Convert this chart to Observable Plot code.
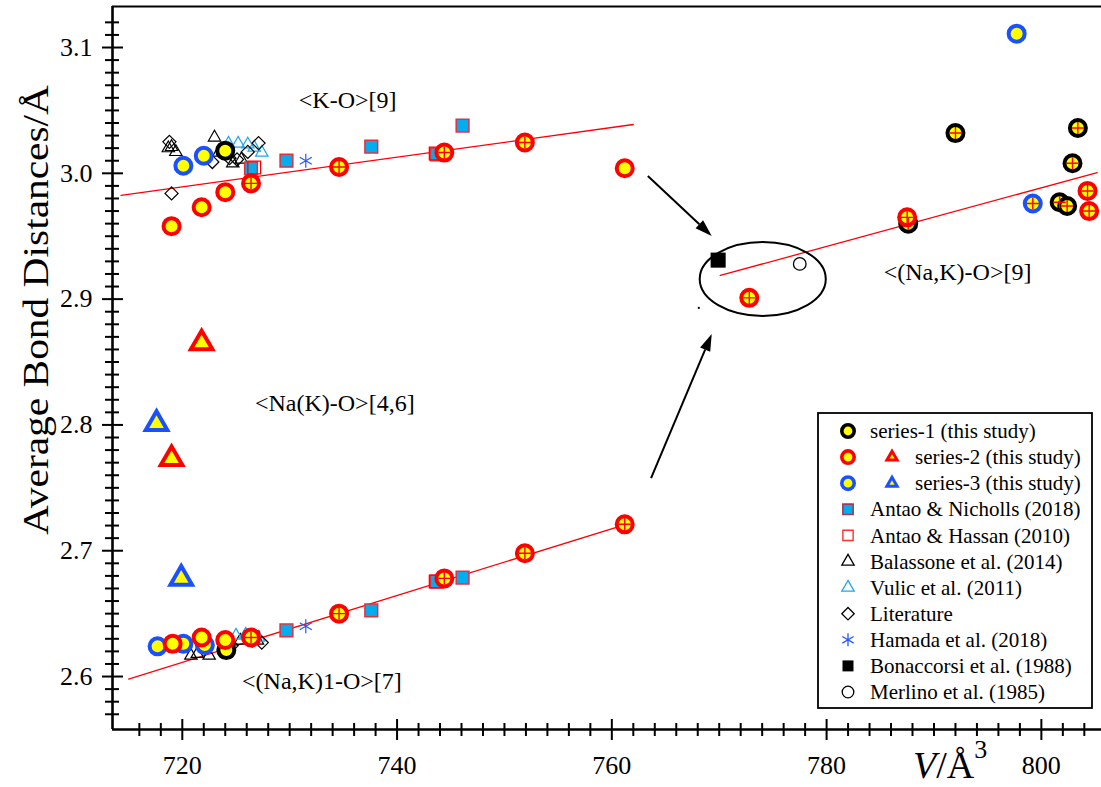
<!DOCTYPE html>
<html><head><meta charset="utf-8">
<script src="https://cdn.jsdelivr.net/npm/d3@7"></script>
<script src="https://cdn.jsdelivr.net/npm/@observablehq/plot@0.6"></script>
<style>body{margin:0;background:#fff;overflow:hidden}svg{display:block}</style>
</head><body><div id="chart"></div>
<script>
// ---------- data ----------
const xTicks = [720, 740, 760, 780, 800];
const yTicks = [2.6, 2.7, 2.8, 2.9, 3.0, 3.1];

const series1 = [
  {v: 724.0, d: 3.018, cross: false},
  {v: 724.1, d: 2.621, cross: false},
  {v: 787.6, d: 2.960, cross: true},
  {v: 792.0, d: 3.032, cross: true},
  {v: 803.4, d: 3.036, cross: true},
  {v: 802.9, d: 3.008, cross: true},
  {v: 801.7, d: 2.977, cross: true},
  {v: 802.4, d: 2.974, cross: true}
];
const series2 = [
  {v: 719.0, d: 2.958, cross: false},
  {v: 721.8, d: 2.973, cross: false},
  {v: 724.0, d: 2.985, cross: false},
  {v: 726.4, d: 2.992, cross: true},
  {v: 734.6, d: 3.005, cross: true},
  {v: 744.4, d: 3.0165, cross: true},
  {v: 751.9, d: 3.0245, cross: true},
  {v: 761.2, d: 3.004, cross: false},
  {v: 719.1, d: 2.626, cross: false},
  {v: 721.8, d: 2.631, cross: false},
  {v: 724.0, d: 2.629, cross: false},
  {v: 726.4, d: 2.631, cross: true},
  {v: 734.6, d: 2.650, cross: true},
  {v: 744.4, d: 2.678, cross: true},
  {v: 751.9, d: 2.698, cross: true},
  {v: 761.2, d: 2.721, cross: true},
  {v: 772.8, d: 2.901, cross: true},
  {v: 787.5, d: 2.965, cross: true},
  {v: 804.3, d: 2.986, cross: true},
  {v: 804.45, d: 2.970, cross: true}
];
const series3 = [
  {v: 720.1, d: 3.006, cross: false},
  {v: 722.0, d: 3.014, cross: false},
  {v: 717.7, d: 2.624, cross: false},
  {v: 720.1, d: 2.626, cross: false},
  {v: 722.1, d: 2.625, cross: false},
  {v: 797.7, d: 3.111, cross: false},
  {v: 799.2, d: 2.976, cross: true}
];
const series2Tri = [{v: 721.8, d: 2.865}, {v: 719.0, d: 2.773}];
const series3Tri = [{v: 717.6, d: 2.801}, {v: 719.9, d: 2.678}];

const antaoNicholls = [
  {v: 726.4, d: 3.004}, {v: 729.7, d: 3.010}, {v: 737.6, d: 3.0213}, {v: 743.7, d: 3.015}, {v: 746.1, d: 3.038},
  {v: 726.4, d: 2.631}, {v: 729.7, d: 2.6366}, {v: 737.6, d: 2.6525}, {v: 743.7, d: 2.6755}, {v: 746.1, d: 2.6787}
];
const antaoHassan = [
  {v: 726.7, d: 3.0046}, {v: 743.6, d: 3.0157},
  {v: 726.6, d: 2.631}, {v: 743.6, d: 2.6755}
];
const balassone = [
  {v: 718.7, d: 3.020}, {v: 719.0, d: 3.021}, {v: 719.4, d: 3.017}, {v: 723.0, d: 3.0285},
  {v: 724.7, d: 3.008}, {v: 725.5, d: 3.011}, {v: 723.4, d: 3.0165},
  {v: 720.8, d: 2.6167}, {v: 721.4, d: 2.618}, {v: 722.5, d: 2.6167}, {v: 725.4, d: 2.6286}, {v: 727.0, d: 2.6286}
];
const vulic = [
  {v: 724.3, d: 3.0237}, {v: 725.2, d: 3.0237}, {v: 726.1, d: 3.023}, {v: 726.7, d: 3.0205}, {v: 727.4, d: 3.0165},
  {v: 725.0, d: 2.6326}, {v: 725.9, d: 2.6334}, {v: 727.1, d: 2.631}
];
const literature = [
  {v: 718.8, d: 3.025}, {v: 719.0, d: 2.984}, {v: 722.8, d: 3.009}, {v: 724.4, d: 3.012},
  {v: 725.1, d: 3.011}, {v: 726.1, d: 3.017}, {v: 727.1, d: 3.024},
  {v: 726.5, d: 2.6286}, {v: 727.4, d: 2.627}, {v: 724.6, d: 2.6246}
];
const hamada = [{v: 731.5, d: 3.010}, {v: 731.5, d: 2.640}];
const bonaccorsi = [{v: 769.9, d: 2.931}];
const merlino = [{v: 777.5, d: 2.928}];
const strayDot = [{v: 768.1, d: 2.893}];

// fit lines (endpoints)
const lineKO = [{v: 714.3, d: 2.9825}, {v: 762.0, d: 3.0388}];
const lineNaK1 = [{v: 715.0, d: 2.598}, {v: 762.0, d: 2.7228}];
const lineNaK9 = [{v: 770.1, d: 2.9188}, {v: 805.2, d: 3.0006}];

const regionLabels = [
  {v: 735.4, d: 3.058, text: "<K-O>[9]"},
  {v: 734.2, d: 2.817, text: "<Na(K)-O>[4,6]"},
  {v: 733.0, d: 2.596, text: "<(Na,K)1-O>[7]"},
  {v: 792.2, d: 2.921, text: "<(Na,K)-O>[9]"}
];
const arrows = [
  {v1: 763.4, d1: 2.9975, v2: 769.35, d2: 2.9498},
  {v1: 763.7, d1: 2.7574, v2: 769.35, d2: 2.8719}
];
const ellipse = {v: 774.1, d: 2.9156, rv: 5.87, rd: 0.0294};

const legendItems = [
  {label: "series-1 (this study)", kind: "ring", stroke: "#000"},
  {label: "series-2 (this study)", kind: "ringTri", stroke: "#ff0000"},
  {label: "series-3 (this study)", kind: "ringTri", stroke: "#1a50ff"},
  {label: "Antao & Nicholls (2018)", kind: "squareCyan"},
  {label: "Antao & Hassan (2010)", kind: "squareRed"},
  {label: "Balassone et al. (2014)", kind: "triBlack"},
  {label: "Vulic et al. (2011)", kind: "triCyan"},
  {label: "Literature", kind: "diamond"},
  {label: "Hamada et al. (2018)", kind: "asterisk"},
  {label: "Bonaccorsi et al. (1988)", kind: "squareBlack"},
  {label: "Merlino et al. (1985)", kind: "circleOpen"}
];

// ---------- chart ----------
const W = 1101, H = 787;
const xDomain = [713.5, 805.6], yDomain = [2.5579, 3.1326];
const FONT = "'Liberation Serif', 'Times New Roman', serif";
const YEL = "#ffff00", RED = "#ff0000", BLUE = "#1a50ff", CYAN = "#00aeef";
const xMinor = d3.range(358, 403).map(k => k * 2).filter(v => v % 20 !== 0);
const yMinor = d3.range(257, 313).filter(k => k % 10 !== 0).map(k => k / 100);
const innerH = H - 6 - 58, innerW = W - 112;
const crossPts = [...series1, ...series2, ...series3].filter(p => p.cross);

const plot = Plot.plot({
  width: W, height: H,
  marginLeft: 112, marginRight: 0, marginTop: 6, marginBottom: 58,
  x: {domain: xDomain}, y: {domain: yDomain},
  style: {fontFamily: FONT, background: "white", color: "black"},
  marks: [
    Plot.ruleY([yDomain[1]], {stroke: "black", strokeWidth: 2}),
    Plot.ruleX([xDomain[0]], {stroke: "black", strokeWidth: 2.6}),
    Plot.ruleY([yDomain[0]], {stroke: "black", strokeWidth: 2.6}),
    Plot.tickX(xTicks, {x: d => d, insetTop: innerH - 10, insetBottom: -11, stroke: "black", strokeWidth: 2}),
    Plot.tickX(xMinor, {x: d => d, insetTop: innerH - 6, insetBottom: -7, stroke: "black", strokeWidth: 2}),
    Plot.tickY(yTicks, {y: d => d, insetLeft: -10, insetRight: innerW - 11, stroke: "black", strokeWidth: 2}),
    Plot.tickY(yMinor, {y: d => d, insetLeft: -7, insetRight: innerW - 7, stroke: "black", strokeWidth: 2}),
    Plot.axisX({ticks: xTicks, tickSize: 0, tickPadding: 26, fontSize: 26, label: null, tickFormat: d3.format("d")}),
    Plot.axisY({ticks: yTicks, tickSize: 0, tickPadding: 20, fontSize: 26, label: null, tickFormat: d3.format(".1f")}),
    Plot.line(lineKO, {x: "v", y: "d", stroke: RED, strokeWidth: 1.3}),
    Plot.line(lineNaK1, {x: "v", y: "d", stroke: RED, strokeWidth: 1.3}),
    Plot.line(lineNaK9, {x: "v", y: "d", stroke: RED, strokeWidth: 1.3}),
    Plot.dot(balassone, {x: "v", y: "d", symbol: "triangle", r: 4.6, fill: "none", stroke: "black", strokeWidth: 1.2}),
    Plot.dot(vulic, {x: "v", y: "d", symbol: "triangle", r: 4.6, fill: "none", stroke: "#1ea7ea", strokeWidth: 1.2}),
    Plot.dot(literature, {x: "v", y: "d", symbol: "diamond2", r: 5.9, fill: "none", stroke: "black", strokeWidth: 1.2}),
    Plot.dot(antaoNicholls, {x: "v", y: "d", symbol: "square", r: 7.2, fill: CYAN, stroke: "#e23040", strokeWidth: 1.5}),
    Plot.dot(antaoHassan, {x: "v", y: "d", symbol: "square", r: 7.2, fill: "none", stroke: RED, strokeWidth: 1.3}),
    Plot.dot(hamada, {x: "v", y: "d", symbol: "asterisk", r: 6.6, stroke: "#2458ff", strokeWidth: 1.2}),
    Plot.dot(bonaccorsi, {x: "v", y: "d", symbol: "square", r: 8.5, fill: "black", stroke: "none"}),
    Plot.dot(merlino, {x: "v", y: "d", symbol: "circle", r: 6.3, fill: "white", stroke: "black", strokeWidth: 1.3}),
    Plot.dot(strayDot, {x: "v", y: "d", r: 1.1, fill: "black"}),
    Plot.dot(series2Tri, {x: "v", y: "d", symbol: "triangle", r: 8, fill: YEL, stroke: RED, strokeWidth: 4, strokeLinejoin: "miter"}),
    Plot.dot(series3Tri, {x: "v", y: "d", symbol: "triangle", r: 8, fill: YEL, stroke: BLUE, strokeWidth: 4, strokeLinejoin: "miter"}),
    Plot.dot(series3, {x: "v", y: "d", r: 8, fill: YEL, stroke: BLUE, strokeWidth: 4}),
    Plot.dot(series1, {x: "v", y: "d", r: 8, fill: YEL, stroke: "black", strokeWidth: 4}),
    Plot.dot(series2, {x: "v", y: "d", r: 8, fill: YEL, stroke: RED, strokeWidth: 4}),
    Plot.dot(crossPts, {x: "v", y: "d", symbol: "plus", r: 4, stroke: RED, strokeWidth: 1.4}),
    Plot.text(regionLabels, {x: "v", y: "d", text: "text", fontSize: 24, fill: "black"})
  ]
});
document.getElementById("chart").appendChild(plot);

const sx = plot.scale("x"), sy = plot.scale("y");
const svg = d3.select(plot);

svg.append("ellipse")
  .attr("cx", sx.apply(ellipse.v)).attr("cy", sy.apply(ellipse.d))
  .attr("rx", sx.apply(ellipse.v + ellipse.rv) - sx.apply(ellipse.v))
  .attr("ry", sy.apply(ellipse.d) - sy.apply(ellipse.d + ellipse.rd))
  .attr("fill", "none").attr("stroke", "black").attr("stroke-width", 2);

arrows.forEach(a => {
  const x1 = sx.apply(a.v1), y1 = sy.apply(a.d1), x2 = sx.apply(a.v2), y2 = sy.apply(a.d2);
  const ang = Math.atan2(y2 - y1, x2 - x1), L = 17, hw = 5.5;
  const bx = x2 - L * Math.cos(ang), by = y2 - L * Math.sin(ang);
  svg.append("line").attr("x1", x1).attr("y1", y1).attr("x2", bx).attr("y2", by)
    .attr("stroke", "black").attr("stroke-width", 2);
  const px = -Math.sin(ang) * hw, py = Math.cos(ang) * hw;
  svg.append("path").attr("d", `M${x2},${y2}L${bx + px},${by + py}L${bx - px},${by - py}Z`).attr("fill", "black");
});

svg.append("text").attr("transform", "translate(48,310) rotate(-90)")
  .attr("text-anchor", "middle").attr("font-family", FONT).attr("font-size", 36)
  .attr("textLength", 450).attr("lengthAdjust", "spacingAndGlyphs")
  .text("Average Bond Distances/Å");
const xt = svg.append("text").attr("x", 913).attr("y", 778).attr("text-anchor", "start")
  .attr("font-family", FONT).attr("font-size", 38);
xt.append("tspan").attr("font-style", "italic").text("V");
xt.append("tspan").text("/Å");
xt.append("tspan").attr("dy", -20).attr("font-size", 26).text("3");

const lg = svg.append("g");
lg.append("rect").attr("x", 818).attr("y", 413).attr("width", 274).attr("height", 295)
  .attr("fill", "white").attr("stroke", "black").attr("stroke-width", 1.8);
const sym = (type, r) => d3.symbol(type, Math.PI * r * r)();
legendItems.forEach((it, i) => {
  const y = 431 + i * 26.1, g = lg.append("g");
  const sx0 = 848;
  let tx = 870;
  const put = (d, x, attrs) => {
    const p = g.append("path").attr("d", d).attr("transform", `translate(${x},${y})`);
    Object.entries(attrs).forEach(([k, v]) => p.attr(k, v));
  };
  if (it.kind === "ring" || it.kind === "ringTri") {
    put(sym(d3.symbolCircle, 6.2), sx0, {fill: YEL, stroke: it.stroke, "stroke-width": 3.6});
    if (it.kind === "ringTri") {
      put(sym(d3.symbolTriangle, 3.8), 892, {fill: YEL, stroke: it.stroke, "stroke-width": 3});
      tx = 915;
    }
  } else if (it.kind === "squareCyan") put(sym(d3.symbolSquare, 5.8), sx0, {fill: CYAN, stroke: "#9e3b5b", "stroke-width": 1.6});
  else if (it.kind === "squareRed") put(sym(d3.symbolSquare, 5.8), sx0, {fill: "none", stroke: "#ff3030", "stroke-width": 1.4});
  else if (it.kind === "triBlack") put(sym(d3.symbolTriangle, 4.6), sx0, {fill: "none", stroke: "#000", "stroke-width": 1.3});
  else if (it.kind === "triCyan") put(sym(d3.symbolTriangle, 4.6), sx0, {fill: "none", stroke: "#1ea7ea", "stroke-width": 1.3});
  else if (it.kind === "diamond") put(sym(d3.symbolDiamond2, 5.6), sx0, {fill: "none", stroke: "#000", "stroke-width": 1.3});
  else if (it.kind === "asterisk") put(sym(d3.symbolAsterisk, 6.2), sx0, {fill: "none", stroke: "#2458ff", "stroke-width": 1.3});
  else if (it.kind === "squareBlack") put(sym(d3.symbolSquare, 6.2), sx0, {fill: "#000", stroke: "none"});
  else if (it.kind === "circleOpen") put(sym(d3.symbolCircle, 5.8), sx0, {fill: "white", stroke: "#000", "stroke-width": 1.3});
  g.append("text").attr("x", tx).attr("y", y).attr("dy", "0.34em").attr("text-anchor", "start")
    .attr("font-family", FONT).attr("font-size", 21).text(it.label);
});
</script></body></html>
